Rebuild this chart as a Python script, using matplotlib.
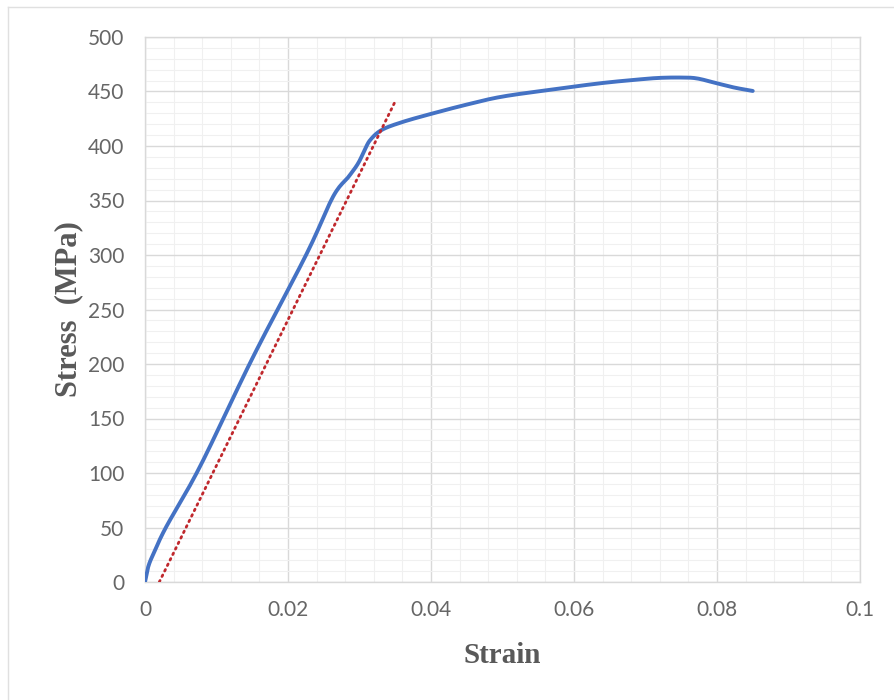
import matplotlib
matplotlib.use("Agg")
import matplotlib.pyplot as plt
from matplotlib.ticker import MultipleLocator
from matplotlib.lines import Line2D
import numpy as np

# Measured stress-strain curve
strain = [0.0, 0.0005, 0.0014, 0.003, 0.0077, 0.0150, 0.0226, 0.0263,
          0.0285, 0.0298, 0.0307, 0.0315, 0.0331, 0.0360, 0.0403, 0.0450,
          0.0497, 0.0560, 0.0636, 0.0690, 0.0720, 0.0750, 0.0772, 0.0800,
          0.0825, 0.0850]
stress = [0.0, 15, 29, 51, 106, 205, 301, 353.5,
          372, 384, 396, 405.5, 414.7, 422, 430, 438,
          445, 451, 457.5, 461, 462.5, 462.8, 462, 457.5,
          453.5, 450.5]

# 0.2% offset line
offset_strain = [0.002, 0.035]
offset_stress = [0.0, 441.0]

x_ticks = [0, 0.02, 0.04, 0.06, 0.08, 0.1]
x_tick_labels = ["0", "0.02", "0.04", "0.06", "0.08", "0.1"]
y_ticks = [0, 50, 100, 150, 200, 250, 300, 350, 400, 450, 500]

fig = plt.figure(figsize=(8.94, 7.0), dpi=100)
ax = fig.add_axes([145/894, 1-582/700, (860-145)/894, (582-37)/700])

# smooth the measured curve (Catmull-Rom through the read points)
s = np.array(strain); t = np.array(stress)
xs = []; ys = []
for i in range(len(s)-1):
    p0 = np.array([s[max(i-1, 0)], t[max(i-1, 0)]])
    p1 = np.array([s[i], t[i]]); p2 = np.array([s[i+1], t[i+1]])
    p3 = np.array([s[min(i+2, len(s)-1)], t[min(i+2, len(s)-1)]])
    for u in np.linspace(0, 1, 12, endpoint=False):
        pt = 0.5*((2*p1) + (-p0+p2)*u + (2*p0-5*p1+4*p2-p3)*u**2 + (-p0+3*p1-3*p2+p3)*u**3)
        xs.append(pt[0]); ys.append(pt[1])
xs.append(s[-1]); ys.append(t[-1])

ax.plot(xs, ys, color="#4472C4", lw=2.8, solid_capstyle="round", zorder=3)
ax.plot(offset_strain, offset_stress, color="#C0282D", lw=2.0,
        linestyle=(0, (0.6, 1.6)), dash_capstyle="round", zorder=4)

ax.set_xlim(0, 0.1)
ax.set_ylim(0, 500)
ax.set_xticks(x_ticks)
ax.set_xticklabels(x_tick_labels)
ax.set_yticks(y_ticks)
ax.xaxis.set_minor_locator(MultipleLocator(0.004))
ax.yaxis.set_minor_locator(MultipleLocator(10))
ax.grid(which="major", color="#D9D9D9", lw=1.0, zorder=0)
ax.grid(which="minor", color="#F0F0F0", lw=0.8, zorder=0)
ax.set_axisbelow(True)
for sp in ax.spines.values():
    sp.set_color("#D9D9D9")
    sp.set_linewidth(1.0)
ax.tick_params(which="both", length=0, colors="#666666", labelsize=15)
ax.tick_params(axis="y", pad=15)
ax.tick_params(axis="x", pad=13)
for lab in ax.get_xticklabels() + ax.get_yticklabels():
    lab.set_family("Lato")
    lab.set_fontweight("normal")
    lab.set_color("#666666")

ax.set_xlabel("Strain", family="Liberation Serif", fontweight="bold",
              fontsize=21, color="#595959", labelpad=16)
ax.set_ylabel("Stress  (MPa)", family="Liberation Serif", fontweight="bold",
              fontsize=22, color="#595959", labelpad=3)

# outer chart border
fig.add_artist(Line2D([8/894, 1], [1-7/700, 1-7/700], color="#E0E0E0", lw=1.0,
                      transform=fig.transFigure))
fig.add_artist(Line2D([8/894, 8/894], [0, 1-7/700], color="#E0E0E0", lw=1.0,
                      transform=fig.transFigure))

fig.savefig("out.png", dpi=100)
